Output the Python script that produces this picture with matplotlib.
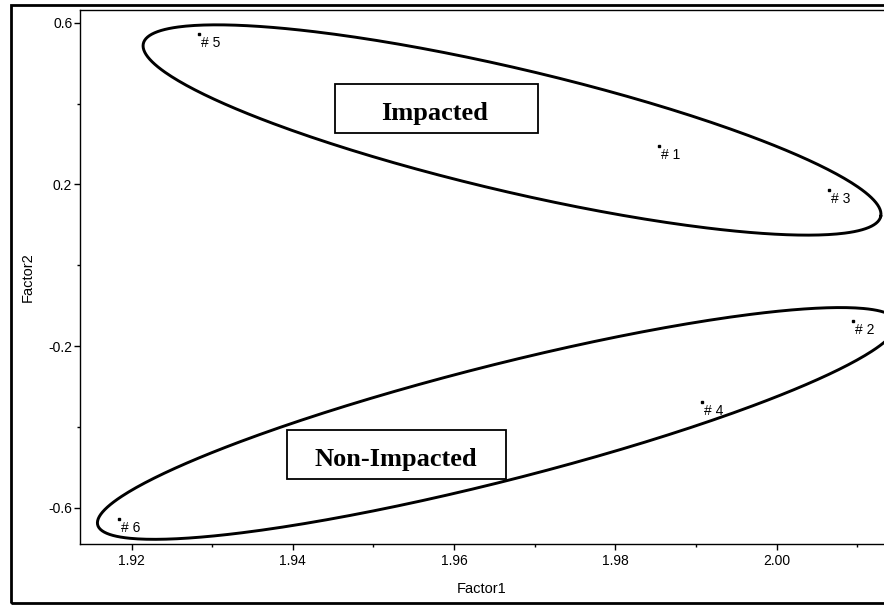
import numpy as np
import matplotlib
matplotlib.use('Agg')
import matplotlib.pyplot as plt
from matplotlib.patches import Rectangle
from matplotlib.ticker import MultipleLocator

plt.rcParams['font.family'] = ['Liberation Sans', 'DejaVu Sans']

# sample scores (Factor1, Factor2)
labels = ['# 1', '# 2', '# 3', '# 4', '# 5', '# 6']
factor1 = [1.9854, 2.0094, 2.0065, 1.9907, 1.9284, 1.9184]
factor2 = [0.296, -0.137, 0.186, -0.338, 0.572, -0.629]

# group ellipses: centre, major half-axis vector, minor half-axis vector (data units)
group_names = ['Impacted', 'Non-Impacted']
ell_center = [(1.96718, 0.3349), (1.96535, -0.3915)]
ell_major = [(0.045716, -0.21411), (0.04955, 0.2511)]
ell_minor = [(-0.001738, -0.14797), (0.001763, -0.13867)]

W, H = 884, 607
fig = plt.figure(figsize=(W / 100, H / 100), dpi=100)
# axes runs past the right edge like the cropped original
ax = fig.add_axes([80 / W, (H - 544) / H, 858 / W, 534 / H])

ax.set_xlim(1.91361, 2.02)
ax.set_ylim(-0.6899, 0.6319)

t = np.linspace(0, 2 * np.pi, 400)
for c, mj, mn in zip(ell_center, ell_major, ell_minor):
    ex = c[0] + mj[0] * np.cos(t) + mn[0] * np.sin(t)
    ey = c[1] + mj[1] * np.cos(t) + mn[1] * np.sin(t)
    ax.plot(ex, ey, color='black', lw=2.1, zorder=2)

ax.plot(factor1, factor2, 's', color='black', ms=1.8, zorder=4)
for x, y, lab in zip(factor1, factor2, labels):
    ax.annotate(lab, (x, y), xytext=(1.5, -1.5), textcoords='offset points',
                ha='left', va='top', fontsize=10, zorder=4)

# group label boxes
box_x = [0.2972, 0.2409]
box_y = [0.7691, 0.1212]
box_w = [0.2370, 0.2556]
box_h = 0.0923
txt_x = [0.4138, 0.368]
txt_y = [0.794, 0.146]
for i, name in enumerate(group_names):
    ax.add_patch(Rectangle((box_x[i], box_y[i]), box_w[i], box_h, transform=ax.transAxes,
                           facecolor='white', edgecolor='black', lw=1.3, zorder=5))
    ax.text(txt_x[i], txt_y[i], name, transform=ax.transAxes, ha='center', va='baseline',
            family='Liberation Serif', fontweight='bold', fontsize=19, zorder=6)

ax.xaxis.set_minor_locator(MultipleLocator(0.01))
ax.yaxis.set_minor_locator(MultipleLocator(0.2))
ax.set_xticks([1.92, 1.94, 1.96, 1.98, 2.00])
ax.set_xticklabels(['1.92', '1.94', '1.96', '1.98', '2.00'])
ax.set_yticks([-0.6, -0.2, 0.2, 0.6])
ax.set_yticklabels(['-0.6', '-0.2', '0.2', '0.6'])
ax.tick_params(which='major', direction='out', length=4, width=1, labelsize=10, pad=3)
ax.tick_params(which='minor', direction='out', length=2.5, width=1)
ax.tick_params(axis='y', pad=1.5)

for s in ['left', 'bottom', 'top']:
    ax.spines[s].set_linewidth(1.0)
ax.spines['right'].set_visible(False)

ax.set_xlabel('Factor1', fontsize=10.5)
ax.xaxis.set_label_coords((482 - 80) / 858, -(588 - 544) / 534 + 0.012)
ax.set_ylabel('Factor2', fontsize=10.5)
ax.yaxis.set_label_coords(-(80 - 35) / 858, 0.5)

# outer frame around the whole chart
fig.add_artist(Rectangle((11 / W, 4 / H), 900 / W, (603 - 5) / H, transform=fig.transFigure,
                         facecolor='none', edgecolor='black', lw=2.0))

fig.savefig('out.png', dpi=100)
